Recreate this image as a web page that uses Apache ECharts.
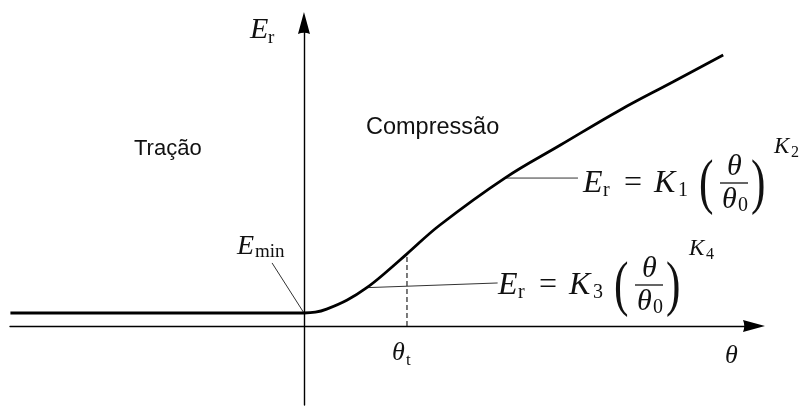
<!DOCTYPE html>
<html>
<head>
<meta charset="utf-8">
<script src="https://cdn.jsdelivr.net/npm/echarts@6/dist/echarts.min.js"></script>
<style>
  html, body { margin: 0; padding: 0; background: #fff; }
  #chart { width: 805px; height: 410px; }
</style>
</head>
<body>
<div id="chart"></div>
<script>
// Resilient modulus E_r against bulk stress θ, in units where θ_t = 1 and E_min = 1.
const theta   = [-2.85, 0.00, 0.11, 0.22, 0.42, 0.61, 0.81, 1.00, 1.32, 1.95, 2.49, 3.07, 3.58, 4.07];
const modulus = [ 1.00, 1.00, 1.06, 1.30, 2.00, 2.95, 4.23, 5.55, 7.77, 11.38, 13.92, 16.62, 18.77, 20.85];

// Transition stress θ_t and the modulus reached there.
const thetaT = 1.00;
const modulusAtThetaT = 5.55;

// Leader lines from the labels to the curve: [label end, curve end].
const leaderEmin = [[-0.31, 4.85], [0.00, 1.00]];
const leaderK3   = [[1.88, 3.31], [0.61, 2.95]];
const leaderK1   = [[2.66, 11.38], [1.95, 11.38]];

// Axis extents.
const thetaRange   = [-2.854, 4.369];
const modulusRange = [-6.077, 23.308];

// Texts.
const regionLabels = ['Tração', 'Compressão'];
const lawK1 = ['K', '1', 'K', '2'];
const lawK3 = ['K', '3', 'K', '4'];

const MATH = '"Liberation Serif", "DejaVu Serif", serif';
const SANS = '"Liberation Sans", Arial, sans-serif';
const INK = '#111';

function txt(str, x, y, size, italic, family, extra) {
  return Object.assign({
    type: 'text', x: x, y: y, z: 100,
    style: {
      text: str,
      font: (italic ? 'italic ' : '') + size + 'px ' + (family || MATH),
      fill: INK,
      textAlign: 'left',
      textVerticalAlign: 'middle'
    }
  }, extra || {});
}

// E_r = K_a (θ/θ_0)^{K_b}, laid out from the left edge of E and the math axis.
function powerLaw(x0, y0, names) {
  return {
    type: 'group', x: x0, y: y0, z: 100,
    children: [
      txt('E', 0, 0, 32, true),
      txt('r', 20, 7, 20, false),
      txt('=', 41, 0, 32, false),
      txt(names[0], 71, 0, 32, true),
      txt(names[1], 95, 7, 20, false),
      txt('(', 116, 2, 62, false, MATH, { scaleX: 0.7 }),
      txt('θ', 144, -17, 30, true),
      { type: 'line', z: 100, shape: { x1: 137, y1: -1, x2: 165, y2: -1 }, style: { stroke: INK, lineWidth: 1.3 } },
      txt('θ', 139, 16, 30, true),
      txt('0', 155, 22, 20, false),
      txt(')', 168, 2, 62, false, MATH, { scaleX: 0.7 }),
      txt(names[2], 191, -37, 23, true),
      txt(names[3], 208, -31, 16, false)
    ]
  };
}

const chart = echarts.init(document.getElementById('chart'), null, { renderer: 'canvas' });

const arrowHead = 'path://M6,0 L12,22 Q6,19.5 0,22 Z';

function axisCommon(range) {
  return {
    type: 'value',
    min: range[0],
    max: range[1],
    axisLine: {
      show: true,
      onZero: true,
      symbol: ['none', arrowHead],
      symbolSize: [12, 22],
      lineStyle: { color: '#000', width: 1.4 }
    },
    axisTick: { show: false },
    axisLabel: { show: false },
    splitLine: { show: false }
  };
}

const thinLine = { color: '#333', width: 1 };

chart.setOption({
  animation: false,
  backgroundColor: '#fff',
  grid: { left: 10, right: 51, top: 23, bottom: 5 },
  xAxis: axisCommon(thetaRange),
  yAxis: axisCommon(modulusRange),
  series: [
    {
      name: 'E_r',
      type: 'line',
      data: theta.map((t, i) => [t, modulus[i]]),
      showSymbol: false,
      smooth: 0.4,
      lineStyle: { color: '#000', width: 2.8 },
      z: 5
    },
    {
      type: 'line',
      data: [[thetaT, 0], [thetaT, modulusAtThetaT]],
      showSymbol: false,
      lineStyle: { color: '#222', width: 1.2, type: [5, 3] },
      z: 3
    },
    { type: 'line', data: leaderEmin, showSymbol: false, lineStyle: thinLine, z: 3 },
    { type: 'line', data: leaderK3, showSymbol: false, lineStyle: thinLine, z: 3 },
    { type: 'line', data: leaderK1, showSymbol: false, lineStyle: thinLine, z: 3 }
  ],
  graphic: [
    // axis names
    txt('E', 250, 30, 30, true),
    txt('r', 268, 38, 19, false),
    txt('θ', 725, 356, 26, true),
    txt('θ', 392, 353, 26, true),
    txt('t', 406, 361, 17, false),
    // minimum modulus
    txt('E', 237, 247, 28, true),
    txt('min', 255, 252, 19, false),
    // regions
    txt(regionLabels[0], 134, 149, 22, false, SANS),
    txt(regionLabels[1], 366, 128, 23.5, false, SANS),
    // power laws
    powerLaw(583, 184, lawK1),
    powerLaw(498, 286, lawK3)
  ]
});
</script>
</body>
</html>
